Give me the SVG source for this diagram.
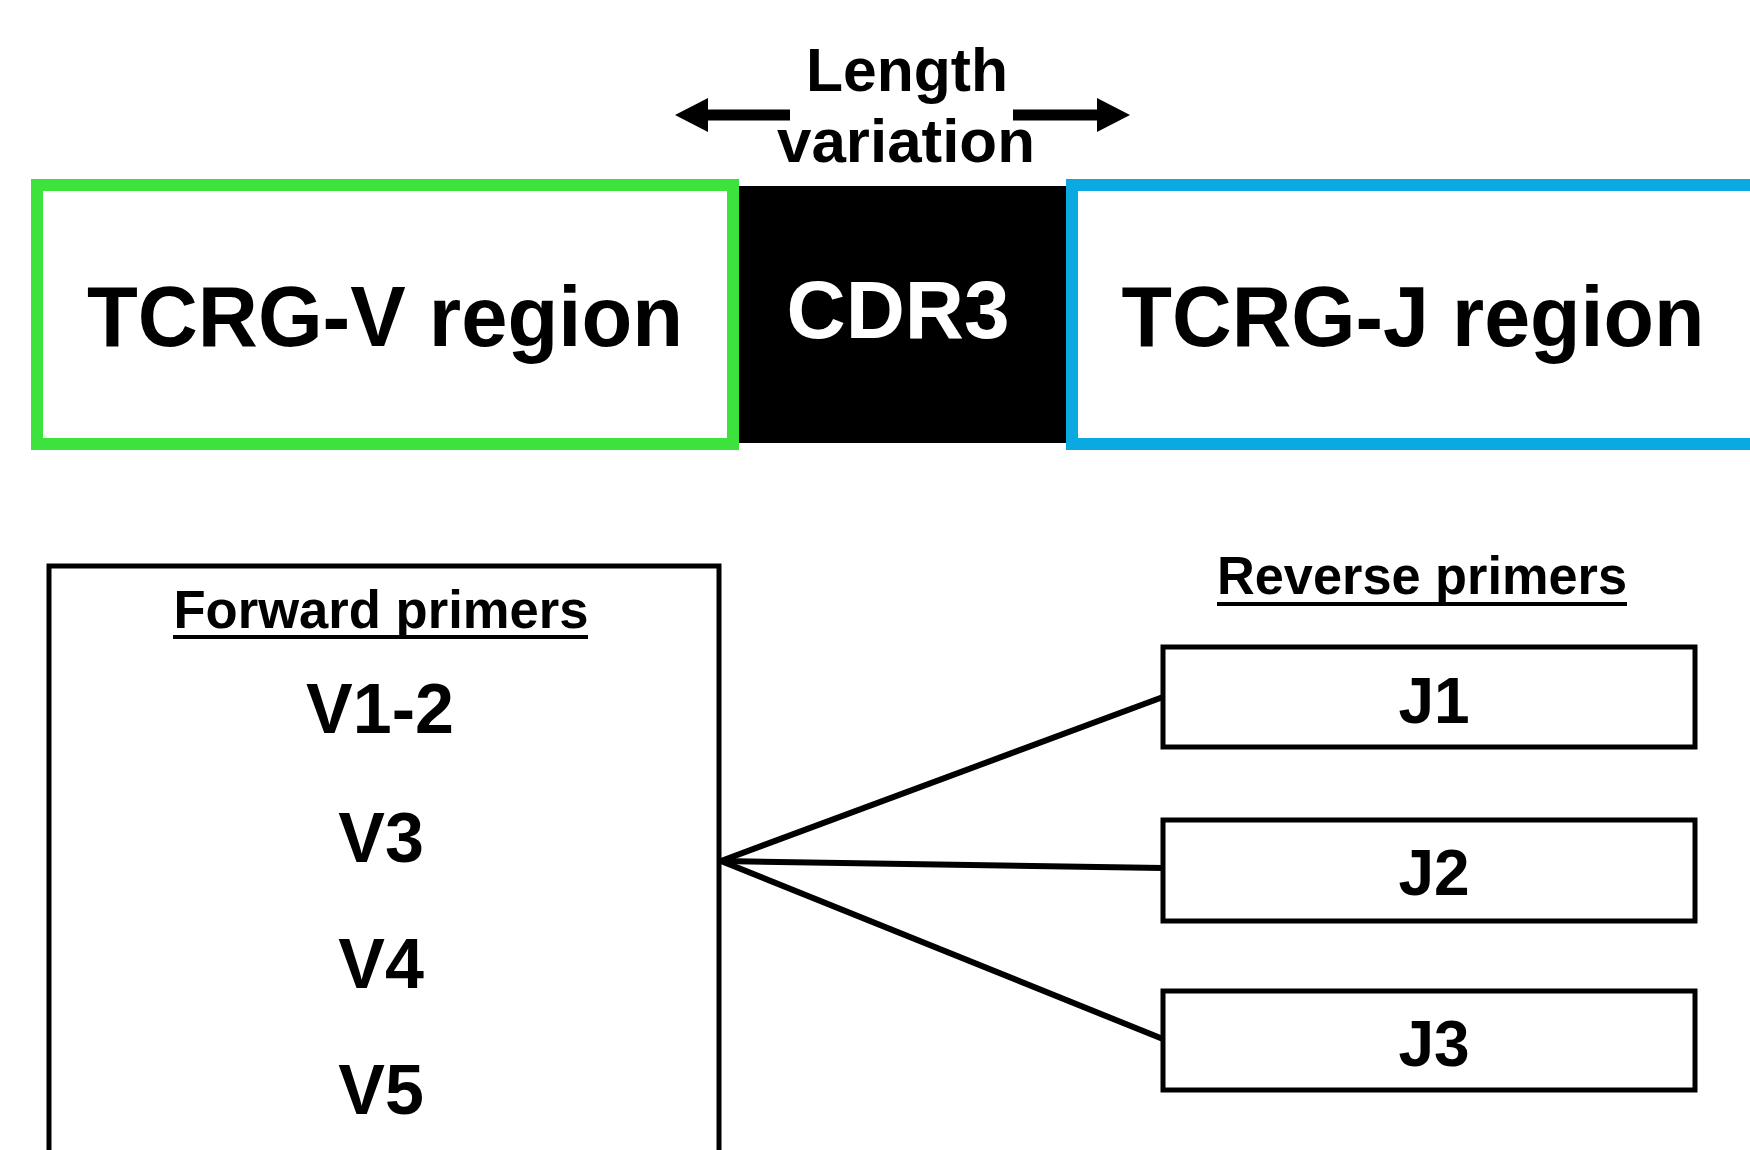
<svg xmlns="http://www.w3.org/2000/svg" width="1750" height="1150" viewBox="0 0 1750 1150">
<style>
text{font-family:"Liberation Sans",Arial,sans-serif;font-weight:bold;fill:#000;text-anchor:middle}
.box{fill:#fff;stroke:#000;stroke-width:5}
.conn{stroke:#000;stroke-width:6;fill:none}
.shaft{stroke:#000;stroke-width:11}
.head{fill:#000}
</style>
<rect width="1750" height="1150" fill="#fff"/>

<g id="length-variation">
<line class="shaft" x1="790" y1="115" x2="706" y2="115"/>
<polygon class="head" points="675,115 708,98 708,132"/>
<line class="shaft" x1="1013" y1="115" x2="1099" y2="115"/>
<polygon class="head" points="1130,115 1097,98 1097,132"/>
<text x="907" y="91" font-size="62" textLength="202" lengthAdjust="spacingAndGlyphs">Length</text>
<text x="906" y="162" font-size="62" textLength="258" lengthAdjust="spacingAndGlyphs">variation</text>
</g>

<g id="v-region">
<rect x="37" y="185" width="696" height="259" fill="#fff" stroke="#3de23d" stroke-width="12"/>
<text x="385" y="346" font-size="85" textLength="596" lengthAdjust="spacingAndGlyphs">TCRG-V region</text>
</g>

<g id="cdr3">
<rect x="739" y="186" width="327" height="257" fill="#000"/>
<text x="898" y="338" font-size="82" style="fill:#fff" textLength="223" lengthAdjust="spacingAndGlyphs">CDR3</text>
</g>

<g id="j-region">
<rect x="1072" y="185" width="800" height="259" fill="#fff" stroke="#0aa9e2" stroke-width="12"/>
<text x="1413" y="346" font-size="85" textLength="583" lengthAdjust="spacingAndGlyphs">TCRG-J region</text>
</g>

<g id="forward-primers">
<rect class="box" x="49" y="566" width="670" height="700"/>
<text x="381" y="628" font-size="54" textLength="415" lengthAdjust="spacingAndGlyphs">Forward primers</text>
<line x1="173" y1="637" x2="588" y2="637" stroke="#000" stroke-width="4"/>
<text x="380" y="733" font-size="70">V1-2</text>
<text x="381" y="862" font-size="70">V3</text>
<text x="381" y="988" font-size="70">V4</text>
<text x="381" y="1114" font-size="70">V5</text>
</g>

<g id="reverse-primers-label">
<text x="1422" y="594" font-size="54" textLength="410" lengthAdjust="spacingAndGlyphs">Reverse primers</text>
<line x1="1217" y1="604" x2="1627" y2="604" stroke="#000" stroke-width="4"/>
</g>

<g id="j1">
<rect class="box" x="1163" y="647" width="532" height="100"/>
<text x="1434" y="723" font-size="64">J1</text>
</g>
<g id="j2">
<rect class="box" x="1163" y="820" width="532" height="101"/>
<text x="1434" y="895" font-size="64">J2</text>
</g>
<g id="j3">
<rect class="box" x="1163" y="991" width="532" height="99"/>
<text x="1434" y="1066" font-size="64">J3</text>
</g>

<g id="connectors">
<line class="conn" x1="721" y1="861" x2="1163" y2="697"/>
<line class="conn" x1="721" y1="861" x2="1163" y2="868"/>
<line class="conn" x1="721" y1="861" x2="1163" y2="1039"/>
</g>
</svg>
